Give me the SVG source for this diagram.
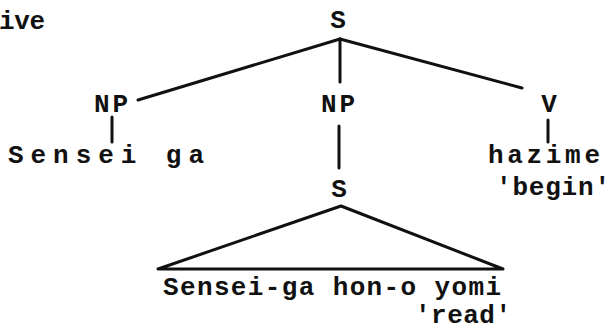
<svg xmlns="http://www.w3.org/2000/svg" width="611" height="335" viewBox="0 0 611 335">
<style>
  text { font-family: "Liberation Mono", "Courier New", monospace; font-size: 26px; font-weight: bold; fill: #111; }
  .c { text-anchor: middle; }
  .ln { stroke: #111; stroke-width: 3; stroke-linecap: round; fill: none; }
</style>
<rect width="611" height="335" fill="#fff"/>
<g id="caption"><text x="-1" y="29" textLength="46" lengthAdjust="spacing">ive</text></g>
<g id="connectors">
  <line class="ln" x1="340" y1="39" x2="138" y2="100"/>
  <line class="ln" x1="340" y1="39" x2="522" y2="88"/>
  <line class="ln" x1="340" y1="39" x2="340" y2="82"/>
  <line class="ln" x1="112" y1="117" x2="112" y2="142"/>
  <line class="ln" x1="339" y1="126" x2="339" y2="168"/>
  <line class="ln" x1="548" y1="120" x2="548" y2="142"/>
</g>
<g id="s-root"><text class="c" x="338" y="28">S</text></g>
<g id="np-left"><text class="c" x="111" y="112" textLength="34" lengthAdjust="spacing">NP</text></g>
<g id="np-mid"><text class="c" x="338" y="112" textLength="34" lengthAdjust="spacing">NP</text></g>
<g id="v"><text class="c" x="549" y="112">V</text></g>
<g id="sensei-ga"><text x="8" y="163" textLength="196" lengthAdjust="spacing">Sensei ga</text></g>
<g id="hazime">
  <text x="488" y="163" textLength="112" lengthAdjust="spacing">hazime</text>
  <text x="496" y="195" textLength="114" lengthAdjust="spacing">'begin'</text>
</g>
<g id="s-embedded"><text class="c" x="339" y="197">S</text></g>
<g id="triangle">
  <polygon class="ln" points="341,206 158,269 503,269" stroke-linejoin="round"/>
  <text x="163" y="295" textLength="338" lengthAdjust="spacing">Sensei-ga hon-o yomi</text>
  <text x="415" y="323" textLength="96" lengthAdjust="spacing">'read'</text>
</g>
</svg>
